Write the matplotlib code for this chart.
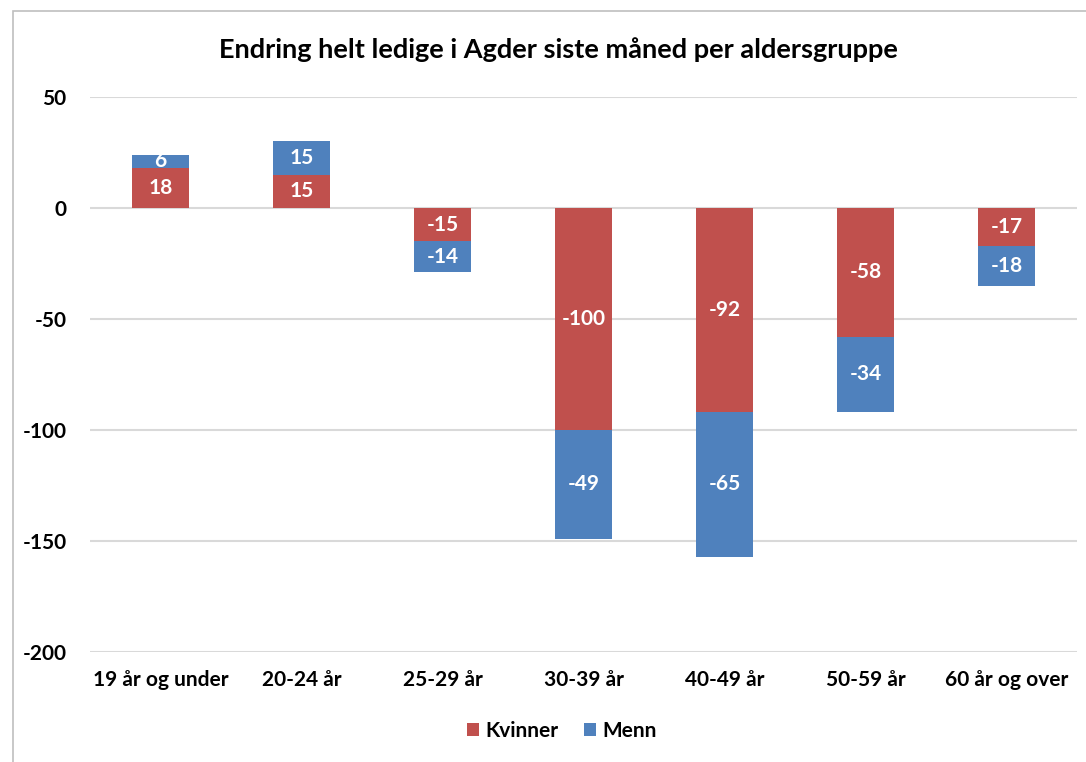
import numpy as np
import matplotlib.pyplot as plt
from matplotlib.patches import Rectangle

# data
grupper = ["19 år og under", "20-24 år", "25-29 år", "30-39 år", "40-49 år", "50-59 år", "60 år og over"]
kvinner = [18, 15, -15, -100, -92, -58, -17]
menn = [6, 15, -14, -49, -65, -34, -18]

rod = "#C0504D"
bla = "#4F81BD"
plt.rcParams['font.family'] = ['Lato', 'DejaVu Sans']
plt.rcParams['font.weight'] = 'bold'
plt.rcParams['axes.unicode_minus'] = False

fig = plt.figure(figsize=(10.86, 7.62), dpi=100)
ax = fig.add_axes([90/1086, 1-652/762, 987/1086, 555/762])

x = np.arange(len(grupper))
k = np.array(kvinner)
m = np.array(menn)
bunn = np.where(np.sign(m) == np.sign(k), k, 0)

b1 = ax.bar(x, k, width=0.4, color=rod, label="Kvinner", zorder=3)
b2 = ax.bar(x, m, width=0.4, bottom=bunn, color=bla, label="Menn", zorder=3)
ax.bar_label(b1, labels=[str(v) for v in kvinner], label_type='center', color='white', fontsize=15, fontweight='bold')
ax.bar_label(b2, labels=[str(v) for v in menn], label_type='center', color='white', fontsize=15, fontweight='bold')

ax.set_xlim(-0.5, len(grupper)-0.5)
ax.set_ylim(-200, 50)
ax.set_yticks([50, 0, -50, -100, -150, -200])
ax.set_xticks(x)
ax.set_xticklabels(grupper, fontsize=15, fontweight='bold')
ax.tick_params(axis='x', length=0, pad=13)
ax.tick_params(axis='y', length=0, pad=17, labelsize=15)
ax.grid(axis='y', color='#D9D9D9', linewidth=1.5, zorder=0)
for s in ax.spines.values():
    s.set_visible(False)

fig.text(558/1086, 1-50/762, "Endring helt ledige i Agder siste måned per aldersgruppe",
         ha='center', va='center', fontsize=19.5, fontweight='bold')

fig.legend(loc='center', bbox_to_anchor=(562/1086, 1-731/762), ncol=2, frameon=False,
           fontsize=15, handlelength=0.6, handleheight=0.6, handletextpad=0.3, columnspacing=1.2)

# ramme
fig.patches.append(Rectangle((13/1086, -0.1), 1.2, 1.1-11/762, transform=fig.transFigure,
                             fill=False, edgecolor='#BFBFBF', linewidth=1.2))

fig.savefig("out.png", dpi=100)
